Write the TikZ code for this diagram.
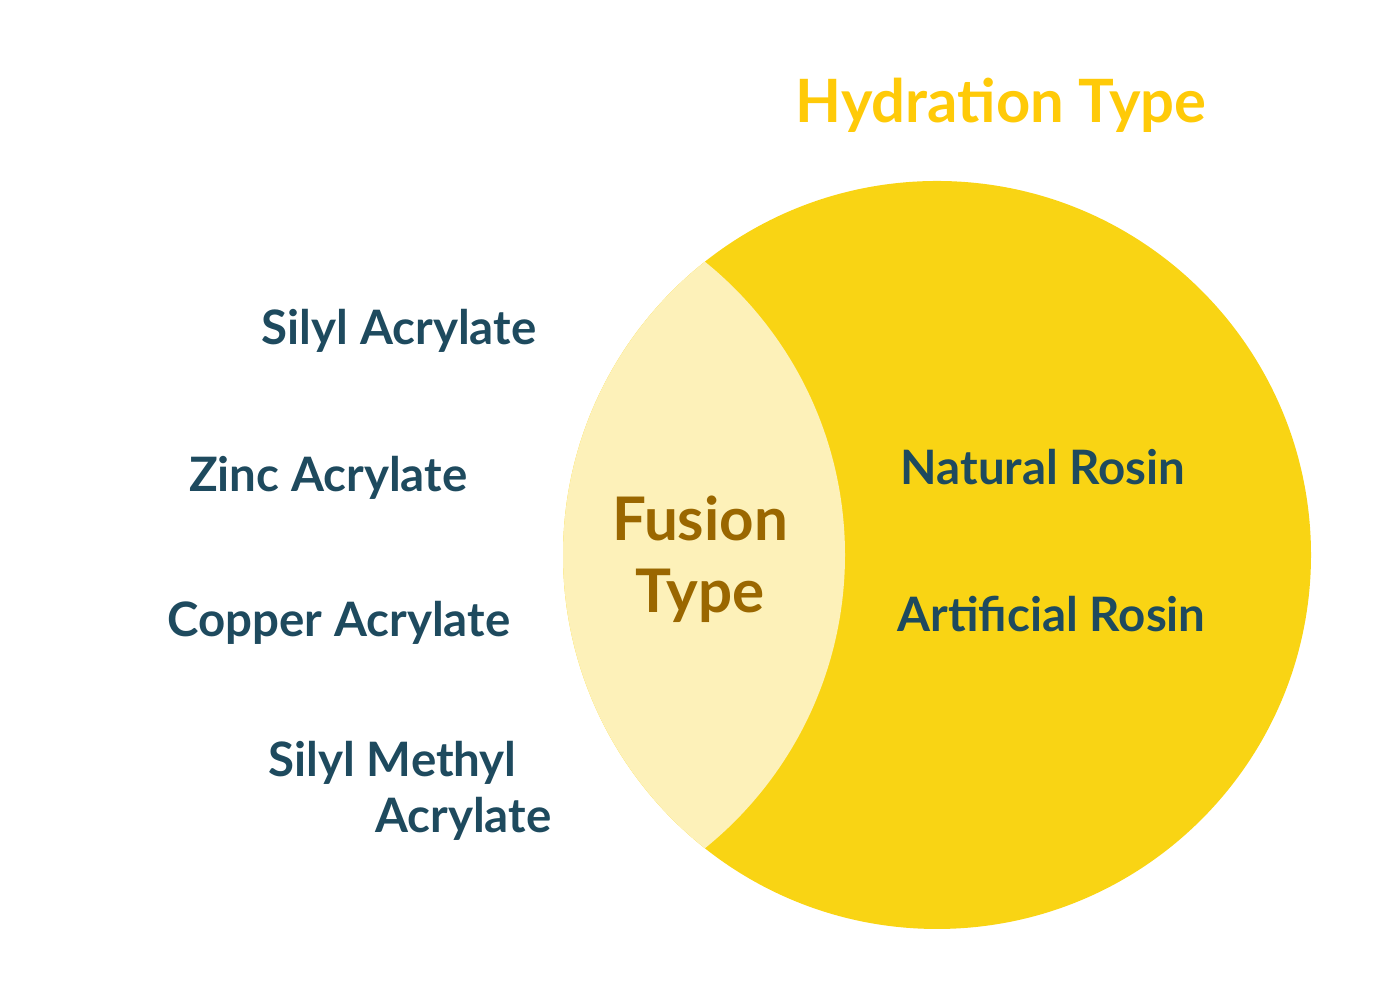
\documentclass[tikz,border=0pt]{standalone}
\usepackage{fontspec}
\setmainfont{Lato}
\definecolor{sun}{HTML}{F9D414}
\definecolor{pale}{HTML}{FDF1B9}
\definecolor{title}{HTML}{FFCA08}
\definecolor{brown}{HTML}{9A6700}
\definecolor{ink}{HTML}{1E4A5E}
\tikzset{lbl/.style={inner sep=0pt, font=\fontsize{13.5pt}{16.2pt}\selectfont\bfseries, text=ink}}
\begin{document}
\begin{tikzpicture}
\useasboundingbox (0,0) rectangle (14,10);
\path[fill=sun] (9.37,4.45) circle (3.74);
\begin{scope}
\clip (9.37,4.45) circle (3.74);
\path[fill=pale] (4.68,4.45) circle (3.77);
\end{scope}
\node[lbl, anchor=base west, text=title, font=\fontsize{17pt}{20pt}\selectfont\bfseries] (h) at (7.95,8.77) {Hydration Type};
\node[lbl, anchor=base east] (1) at (5.37,6.55) {Silyl Acrylate};
\node[lbl, anchor=base east] (2) at (4.68,5.08) {Zinc Acrylate};
\node[lbl, anchor=base east] (3) at (5.11,3.63) {Copper Acrylate};
\node[lbl, anchor=base west, align=left] (4) at (2.68,1.67) {Silyl Methyl\\\hspace*{30.3pt}Acrylate};
\node[lbl, anchor=base west] (5) at (9.00,5.15) {Natural Rosin};
\node[lbl, anchor=base west] (6) at (8.97,3.68) {Artificial Rosin};
\node[lbl, align=center, text=brown, font=\fontsize{17.1pt}{20.4pt}\selectfont\bfseries] (f) at (7.00,4.41) {Fusion\\Type};
\end{tikzpicture}
\end{document}
